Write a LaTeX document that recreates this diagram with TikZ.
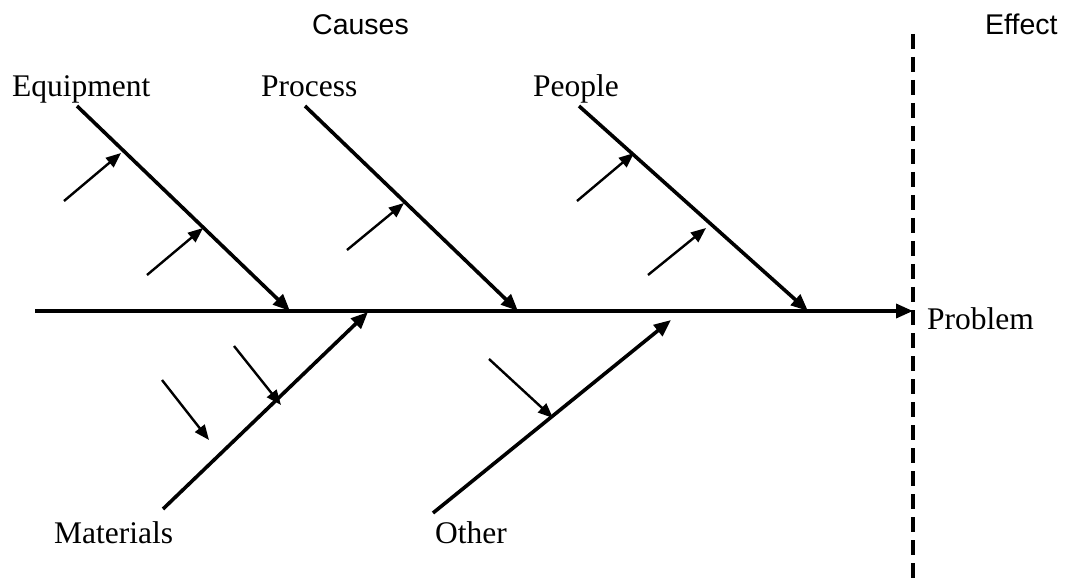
\documentclass[tikz,border=0pt]{standalone}
\usepackage{fontspec}
\setmainfont{Liberation Serif}
\newfontfamily\headfont{Liberation Sans}
\usetikzlibrary{arrows.meta}
\begin{document}
\begin{tikzpicture}[x=1pt,y=-1pt,
  bone/.style={line width=3.6pt,-{Triangle[length=17pt,width=14pt]}},
  rib/.style={line width=2.4pt,-{Triangle[length=15pt,width=12pt]}},
  lbl/.style={anchor=base west,inner sep=0pt,font=\fontsize{31.5}{36}\selectfont},
  head/.style={anchor=base west,inner sep=0pt,font=\headfont\fontsize{28.5}{32}\selectfont}]
\useasboundingbox (0,0) rectangle (1074,580);
% headings
\node[head] (causes) at (312,35) {Causes};
\node[head] (effect) at (985,35) {Effect};
% labels
\node[lbl] (equip) at (12,97) {Equipment};
\node[lbl] (proc) at (261,97) {Process};
\node[lbl] (people) at (533,97) {People};
\node[lbl] (mat) at (54,543) {Materials};
\node[lbl] (other) at (435,543) {Other};
\node[lbl] (prob) at (927,329) {Problem};
% dashed line
\coordinate (dtop) at (913,34);
\coordinate (dbot) at (913,580);
\draw[line width=3.6pt,dash pattern=on 15pt off 8pt] (dtop) -- (dbot);
% spine
\coordinate (s0) at (35,311);
\coordinate (s1) at (913,311);
\draw[bone] (s0) -- (s1);
% branch coordinates
\coordinate (e0) at (77,106);  \coordinate (e1) at (290,311);
\coordinate (p0) at (305,106); \coordinate (p1) at (518,311);
\coordinate (q0) at (579,106); \coordinate (q1) at (808,311);
\coordinate (m0) at (163,509); \coordinate (m1) at (368,312);
\coordinate (o0) at (433,513); \coordinate (o1) at (671,320);
\draw[bone] (e0) -- (e1);
\draw[bone] (p0) -- (p1);
\draw[bone] (q0) -- (q1);
\draw[bone] (m0) -- (m1);
\draw[bone] (o0) -- (o1);
% ribs
\coordinate (r1a) at (64,201);  \coordinate (r1b) at (121,153);
\coordinate (r2a) at (147,275); \coordinate (r2b) at (203,228);
\coordinate (r3a) at (347,250); \coordinate (r3b) at (404,203);
\coordinate (r4a) at (577,201); \coordinate (r4b) at (634,153);
\coordinate (r5a) at (648,275); \coordinate (r5b) at (706,228);
\coordinate (r6a) at (162,380); \coordinate (r6b) at (209,440);
\coordinate (r7a) at (234,346); \coordinate (r7b) at (281,405);
\coordinate (r8a) at (489,359); \coordinate (r8b) at (553,418);
\foreach \i in {1,...,8} {\draw[rib] (r\i a) -- (r\i b);}
\end{tikzpicture}
\end{document}
